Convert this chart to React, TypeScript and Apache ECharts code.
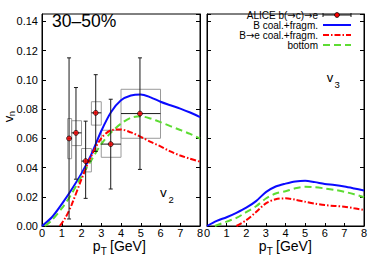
import React, { useEffect, useRef } from "react";
import * as echarts from "echarts";

// ---- data ----
const xTicks = [0, 1, 2, 3, 4, 5, 6, 7, 8];

// v2 panel curves
const blueV2X = [0, 0.5, 1, 1.5, 2, 2.5, 3, 3.5, 4, 4.5, 5, 5.5, 6, 6.5, 7, 7.5, 8];
const blueV2 = [0, 0.006, 0.015, 0.025, 0.036, 0.049, 0.065, 0.078, 0.086, 0.0893, 0.09, 0.088, 0.085, 0.0826, 0.0803, 0.0776, 0.0745];
const greenV2X = [0.15, 0.5, 1, 1.5, 2, 2.5, 3, 3.5, 4, 4.5, 5, 5.5, 6, 6.5, 7, 7.5, 8];
const greenV2 = [0, 0.004, 0.012, 0.022, 0.034, 0.045, 0.056, 0.064, 0.07, 0.074, 0.075, 0.0735, 0.071, 0.0683, 0.0657, 0.063, 0.0598];
const redV2X = [0.9, 1.2, 1.5, 2, 2.5, 3, 3.5, 4, 4.5, 5, 5.5, 6, 6.5, 7, 7.5, 8];
const redV2 = [0, 0.006, 0.0145, 0.032, 0.048, 0.06, 0.0655, 0.066, 0.064, 0.061, 0.0575, 0.0545, 0.051, 0.0482, 0.046, 0.044];

// v3 panel curves
const blueV3X = [0, 0.5, 1, 1.5, 2, 2.5, 3, 3.5, 4, 4.5, 5, 5.5, 6, 6.5, 7, 7.5, 8];
const blueV3 = [0, 0.0035, 0.006, 0.009, 0.0125, 0.017, 0.0232, 0.027, 0.029, 0.0305, 0.031, 0.03, 0.0288, 0.028, 0.027, 0.0257, 0.0243];
const greenV3X = [0.4, 1, 1.5, 2, 2.5, 3, 3.5, 4, 4.5, 5, 5.5, 6, 6.5, 7, 7.5, 8];
const greenV3 = [0, 0.003, 0.0055, 0.0095, 0.0135, 0.0188, 0.0222, 0.0238, 0.0258, 0.0268, 0.0265, 0.0257, 0.0247, 0.0234, 0.0217, 0.0197];
const redV3X = [1.5, 2, 2.5, 3, 3.5, 4, 4.5, 5, 5.5, 6, 6.5, 7, 7.5, 8];
const redV3 = [0, 0.004, 0.0095, 0.0155, 0.0183, 0.0189, 0.018, 0.0166, 0.0153, 0.0143, 0.0137, 0.0132, 0.0121, 0.011];

// ALICE b(->c)->e data
const aliceX = [1.37, 1.72, 2.21, 2.72, 3.48, 4.96];
const aliceY = [0.0599, 0.0637, 0.0444, 0.0774, 0.056, 0.0769];
const statLow = [0.0048, 0.032, 0.0189, 0.051, 0.0253, 0.0387];
const statHigh = [0.115, 0.0947, 0.0717, 0.1035, 0.0867, 0.115];
const binLow = [1.3, 1.5, 2.0, 2.5, 3.0, 4.0];
const binHigh = [1.5, 2.0, 2.5, 3.0, 4.0, 6.0];
const sysLow = [0.046, 0.055, 0.037, 0.069, 0.047, 0.06];
const sysHigh = [0.0735, 0.072, 0.053, 0.085, 0.0655, 0.0935];

// legend labels as rich text (arrows drawn in DejaVu Sans)
const legendLabels = [
  "{n|ALICE b(}{a|\u2192}{n|c)}{a|\u2192}{n|e}",
  "{n|B coal.+fragm.}",
  "{n|B}{a|\u2192}{n|e coal.+fragm.}",
  "{n|bottom}",
];

const FONT = "'Liberation Sans', Arial, Helvetica, sans-serif";
const ARROW_FONT = "'DejaVu Sans', sans-serif";
const BLUE = "#0a0aff";
const RED = "#ff0000";
const GREEN = "#5ddc33";
const Y_MAX = 0.145;

const pairs = (xs: number[], ys: number[]) => xs.map((x, i) => [x, ys[i]]);

export default function App() {
  const ref = useRef<HTMLDivElement>(null);
  useEffect(() => {
    if (!ref.current) return;
    const chart = echarts.init(ref.current, null, { renderer: "svg" });

    const xAxisBase = (gridIndex: number) => ({
      type: "value",
      gridIndex,
      min: xTicks[0],
      max: xTicks[xTicks.length - 1],
      interval: 1,
      axisLine: { show: true, lineStyle: { color: "#000", width: 1 } },
      axisTick: { show: true, inside: true, length: 3, lineStyle: { color: "#000" } },
      axisLabel: { show: true, margin: 1, fontSize: 11, color: "#000", fontFamily: FONT },
      splitLine: { show: false },
    });
    const yAxisBase = (gridIndex: number, position: string, labels: boolean) => ({
      type: "value",
      gridIndex,
      position,
      min: 0,
      max: Y_MAX,
      interval: 0.02,
      axisLine: { show: true, onZero: false, lineStyle: { color: "#000", width: 1 } },
      axisTick: { show: true, inside: true, length: 4, lineStyle: { color: "#000" } },
      axisLabel: {
        show: labels,
        margin: 4,
        fontSize: 11,
        color: "#000",
        fontFamily: FONT,
        showMaxLabel: false,
        formatter: (v: number) => v.toFixed(2),
      },
      splitLine: { show: false },
    });

    const lineSeries = (data: number[][], color: string, type: any, xi: number, yi: number) => ({
      type: "line",
      data,
      xAxisIndex: xi,
      yAxisIndex: yi,
      smooth: 0.3,
      symbol: "none",
      z: 3,
      lineStyle: { color, width: 2, type },
    });

    const errData = aliceX.map((x, i) => [x, aliceY[i], statLow[i], statHigh[i], binLow[i], binHigh[i]]);
    const boxData = aliceX.map((_, i) => [binLow[i], binHigh[i], sysLow[i], sysHigh[i]]);

    const legendGraphics: any[] = [];
    const rowsY = [15, 25, 35, 45];
    const lx1 = 323, lx2 = 351;
    legendLabels.forEach((t, i) => {
      legendGraphics.push({
        type: "text",
        x: 318,
        y: rowsY[i],
        style: {
          text: t,
          align: "right",
          verticalAlign: "middle",
          rich: {
            n: { fontSize: 10, fontFamily: FONT, fill: "#000", color: "#000" },
            a: { fontSize: 10, fontFamily: ARROW_FONT, fill: "#000", color: "#000" },
          },
        },
      });
    });
    // legend samples
    legendGraphics.push(
      { type: "line", shape: { x1: lx1, y1: rowsY[0], x2: lx2, y2: rowsY[0] }, style: { stroke: "#111", lineWidth: 1 } },
      { type: "line", shape: { x1: lx1, y1: rowsY[0] - 2, x2: lx1, y2: rowsY[0] + 2 }, style: { stroke: "#111", lineWidth: 1 } },
      { type: "line", shape: { x1: lx2, y1: rowsY[0] - 2, x2: lx2, y2: rowsY[0] + 2 }, style: { stroke: "#111", lineWidth: 1 } },
      { type: "circle", shape: { cx: (lx1 + lx2) / 2, cy: rowsY[0], r: 2.4 }, style: { fill: RED, stroke: "#000", lineWidth: 0.8 } },
      { type: "line", shape: { x1: lx1, y1: rowsY[1], x2: lx2, y2: rowsY[1] }, style: { stroke: BLUE, lineWidth: 2 } },
      { type: "line", shape: { x1: lx1, y1: rowsY[2], x2: lx2, y2: rowsY[2] }, style: { stroke: RED, lineWidth: 2, lineDash: [6, 2, 1.5, 2] } },
      { type: "line", shape: { x1: lx1, y1: rowsY[3], x2: lx2, y2: rowsY[3] }, style: { stroke: GREEN, lineWidth: 2, lineDash: [7, 4] } }
    );

    const txt = (text: string, x: number, y: number, fontSize: number, extra: any = {}) => ({
      type: "text",
      x,
      y,
      ...extra,
      style: { text, fontSize, fontFamily: FONT, fill: "#000", align: "left", verticalAlign: "middle" },
    });

    const option: any = {
      animation: false,
      grid: [
        { left: 42, top: 14, width: 158, height: 212, show: true, borderColor: "#000", borderWidth: 1, backgroundColor: "transparent" },
        { left: 207, top: 14, width: 157, height: 212, show: true, borderColor: "#000", borderWidth: 1, backgroundColor: "transparent" },
      ],
      xAxis: [xAxisBase(0), xAxisBase(1)],
      yAxis: [
        yAxisBase(0, "left", true),
        yAxisBase(0, "right", false),
        yAxisBase(1, "left", false),
        yAxisBase(1, "right", false),
      ],
      series: [
        {
          type: "custom",
          name: "sys",
          xAxisIndex: 0,
          yAxisIndex: 0,
          z: 1,
          data: boxData,
          encode: { x: [0, 1], y: [2, 3] },
          renderItem: (params: any, api: any) => {
            const a = api.coord([api.value(0), api.value(3)]);
            const b = api.coord([api.value(1), api.value(2)]);
            return {
              type: "rect",
              shape: { x: a[0], y: a[1], width: b[0] - a[0], height: b[1] - a[1] },
              style: { fill: "none", stroke: "#9a9a9a", lineWidth: 1 },
            };
          },
        },
        lineSeries(pairs(blueV2X, blueV2), BLUE, "solid", 0, 0),
        lineSeries(pairs(greenV2X, greenV2), GREEN, [7, 4], 0, 0),
        lineSeries(pairs(redV2X, redV2), RED, [6, 2, 1.5, 2], 0, 0),
        {
          type: "custom",
          name: "stat",
          xAxisIndex: 0,
          yAxisIndex: 0,
          z: 4,
          data: errData,
          encode: { x: [0, 4, 5], y: [1, 2, 3] },
          renderItem: (params: any, api: any) => {
            const x = api.value(0), y = api.value(1);
            const top = api.coord([x, api.value(3)]);
            const bot = api.coord([x, api.value(2)]);
            const l = api.coord([api.value(4), y]);
            const r = api.coord([api.value(5), y]);
            const st = { stroke: "#1a1a1a", lineWidth: 1 };
            const c = 2;
            return {
              type: "group",
              children: [
                { type: "line", shape: { x1: top[0], y1: top[1], x2: bot[0], y2: bot[1] }, style: st },
                { type: "line", shape: { x1: top[0] - c, y1: top[1], x2: top[0] + c, y2: top[1] }, style: st },
                { type: "line", shape: { x1: bot[0] - c, y1: bot[1], x2: bot[0] + c, y2: bot[1] }, style: st },
                { type: "line", shape: { x1: l[0], y1: l[1], x2: r[0], y2: r[1] }, style: st },
              ],
            };
          },
        },
        {
          type: "scatter",
          xAxisIndex: 0,
          yAxisIndex: 0,
          z: 5,
          data: pairs(aliceX, aliceY),
          symbol: "circle",
          symbolSize: 5,
          itemStyle: { color: RED, borderColor: "#000", borderWidth: 0.8 },
        },
        lineSeries(pairs(blueV3X, blueV3), BLUE, "solid", 1, 2),
        lineSeries(pairs(greenV3X, greenV3), GREEN, [7, 4], 1, 2),
        lineSeries(pairs(redV3X, redV3), RED, [6, 2, 1.5, 2], 1, 2),
      ],
      graphic: [
        txt("30\u201350%", 52, 21.4, 17.5),
        txt("v", 160, 192.3, 13.5),
        txt("2", 168.5, 199.7, 9.5),
        txt("v", 326.7, 77.8, 13),
        txt("3", 334.5, 84, 9.5),
        txt("p", 92.8, 245.8, 14),
        txt("T", 100.7, 251.5, 10),
        txt("[GeV]", 110, 245.8, 14),
        txt("p", 258.8, 245.8, 14),
        txt("T", 266.7, 251.5, 10),
        txt("[GeV]", 276, 245.8, 14),
        txt("v", 8.2, 122.2, 13, { rotation: Math.PI / 2 }),
        txt("n", 11.5, 116.3, 9.5, { rotation: Math.PI / 2 }),
        ...legendGraphics,
      ],
    };
    chart.setOption(option);
    return () => chart.dispose();
  }, []);

  return (
    <div
      ref={ref}
      style={{ position: "fixed", left: 0, top: 0, width: 374, height: 257, background: "#fff" }}
    />
  );
}
